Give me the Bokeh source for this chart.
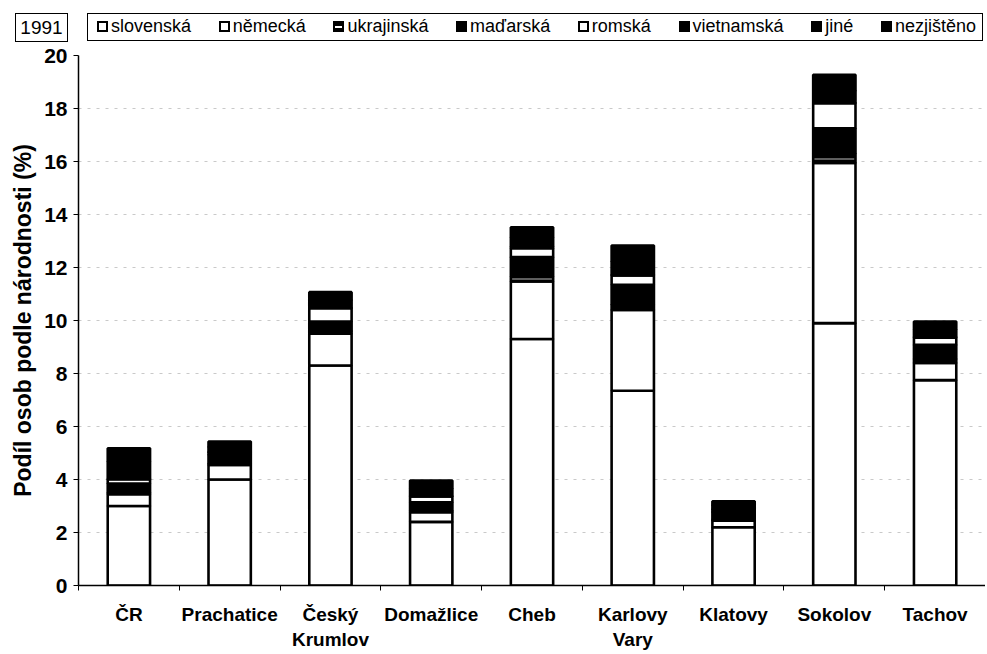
from bokeh.plotting import figure
from bokeh.layouts import column
from bokeh.models import ColumnDataSource, FixedTicker, Range1d, Div
from bokeh.embed import file_html
from bokeh.resources import INLINE

# ---- data ----
categories = ["ČR", "Prachatice", "Český\nKrumlov", "Domažlice", "Cheb",
              "Karlovy\nVary", "Klatovy", "Sokolov", "Tachov"]
series_names = ["slovenská", "německá", "ukrajinská", "maďarská", "romská",
                "vietnamská", "jiné", "nezjištěno"]
slovenska  = [3.00, 4.00, 8.30, 2.40, 9.30, 7.35, 2.20, 9.90, 7.75]
nemecka    = [0.45, 0.55, 1.20, 0.37, 2.17, 3.05, 0.25, 6.05, 0.65]
ukrajinska = [0.05, 0.05, 0.10, 0.05, 0.19, 0.20, 0.05, 0.35, 0.15]
madarska   = [0.35, 0.33, 0.36, 0.32, 0.73, 0.75, 0.27, 0.95, 0.53]
romska     = [0.16, 0.10, 0.50, 0.22, 0.34, 0.35, 0.10, 0.95, 0.27]
vietnamska = [0.01, 0.01, 0.02, 0.02, 0.05, 0.03, 0.01, 0.02, 0.03]
jine       = [0.66, 0.19, 0.29, 0.28, 0.34, 0.50, 0.15, 0.45, 0.28]
nezjisteno = [0.50, 0.20, 0.30, 0.30, 0.40, 0.60, 0.15, 0.60, 0.30]
y_ticks = [0, 2, 4, 6, 8, 10, 12, 14, 16, 18, 20]
year_label = "1991"
y_title = "Podíl osob podle národnosti (%)"

keys = ["slovenska", "nemecka", "ukrajinska", "madarska", "romska",
        "vietnamska", "jine", "nezjisteno"]
values = [slovenska, nemecka, ukrajinska, madarska, romska,
          vietnamska, jine, nezjisteno]
fills = ["white", "white", "black", "black", "white", "black", "black", "black"]
hatches = [None, None, "horizontal_line", None, None, None, None, None]

n = len(categories)
data = {"x": [i + 0.5 for i in range(n)]}
for k, v in zip(keys, values):
    data[k] = v
source = ColumnDataSource(data)

FONT = "Liberation Sans"
W = 985
HEAD_H = 42

# ---------------- header: year box + legend (HTML) ----------------
def swatch(fill, hatch):
    if hatch:
        bg = "linear-gradient(to bottom, black 0%, black 50%, white 50%, white 72%, black 72%)"
    else:
        bg = fill
    return ("<span style='display:inline-block;width:11px;height:11px;"
            "box-sizing:border-box;border:2px solid black;"
            f"background:{bg};margin-right:3px;'></span>")

items_html = "".join(
    "<span style='display:flex;align-items:center;white-space:nowrap;'>"
    f"{swatch(fc, hp)}{nm}</span>"
    for nm, fc, hp in zip(series_names, fills, hatches))

header_html = (
    f"<div style=\"position:relative;width:{W}px;height:{HEAD_H}px;"
    f"font-family:'{FONT}',Arial,sans-serif;color:black;\">"
    "<div style='position:absolute;left:15px;top:13px;width:53px;height:29px;"
    "box-sizing:border-box;border:1px solid black;background:white;"
    "display:flex;align-items:center;justify-content:center;font-size:19px;'>"
    f"{year_label}</div>"
    "<div style='position:absolute;left:87px;top:13px;width:896px;height:28px;"
    "box-sizing:border-box;border:1px solid black;background:white;"
    "display:flex;align-items:center;justify-content:space-between;"
    "padding:0 6px 0 9px;font-size:18px;'>"
    f"{items_html}</div></div>")

head = Div(text=header_html, width=W, height=HEAD_H, margin=0)

# ---------------- main chart ----------------
p = figure(width=W, height=652 - HEAD_H, x_range=Range1d(0, n), y_range=Range1d(0, 20),
           output_backend="svg", toolbar_location=None,
           min_border_left=78, min_border_right=0, min_border_top=13,
           min_border_bottom=67)
p.outline_line_color = None
p.background_fill_color = "white"

renderers = p.vbar_stack(keys, x="x", width=0.42, source=source,
                         fill_color=fills, line_color="black", line_width=2.6,
                         hatch_pattern=hatches, hatch_color="#bbbbbb",
                         hatch_scale=8, hatch_weight=1)

# x axis: labels at centres, tick marks at category boundaries
p.xaxis.ticker = FixedTicker(ticks=[i + 0.5 for i in range(n)],
                             minor_ticks=list(range(n + 1)))
p.xaxis.major_label_overrides = {i + 0.5: c for i, c in enumerate(categories)}
p.xaxis.major_tick_out = 0
p.xaxis.major_tick_in = 0
p.xaxis.minor_tick_out = 5
p.xaxis.minor_tick_in = 0
p.xaxis.minor_tick_line_color = "black"
p.xaxis.major_label_text_font = FONT
p.xaxis.major_label_text_font_style = "bold"
p.xaxis.major_label_text_font_size = "19px"
p.xaxis.major_label_text_color = "black"
p.xaxis.major_label_standoff = 13
p.xaxis.axis_line_color = "black"
p.xaxis.axis_line_width = 1.5

p.yaxis.ticker = FixedTicker(ticks=y_ticks)
p.yaxis.minor_tick_line_color = None
p.yaxis.major_tick_out = 5
p.yaxis.major_tick_in = 0
p.yaxis.major_label_text_font = FONT
p.yaxis.major_label_text_font_style = "bold"
p.yaxis.major_label_text_font_size = "21px"
p.yaxis.major_label_text_color = "black"
p.yaxis.major_label_standoff = 6
p.yaxis.axis_line_color = "black"
p.yaxis.axis_line_width = 1.5
p.yaxis.axis_label = y_title
p.yaxis.axis_label_text_font = FONT
p.yaxis.axis_label_text_font_style = "bold"
p.yaxis.axis_label_text_font_size = "23px"
p.yaxis.axis_label_text_color = "black"
p.yaxis.axis_label_standoff = 5

p.xgrid.grid_line_color = None
p.ygrid.grid_line_color = "#777777"
p.ygrid.grid_line_dash = "3 6"
p.ygrid.grid_line_alpha = 0.4
p.ygrid.grid_line_width = 1

layout = column(head, p, spacing=0)
open("out.html", "w").write(file_html(layout, INLINE))
